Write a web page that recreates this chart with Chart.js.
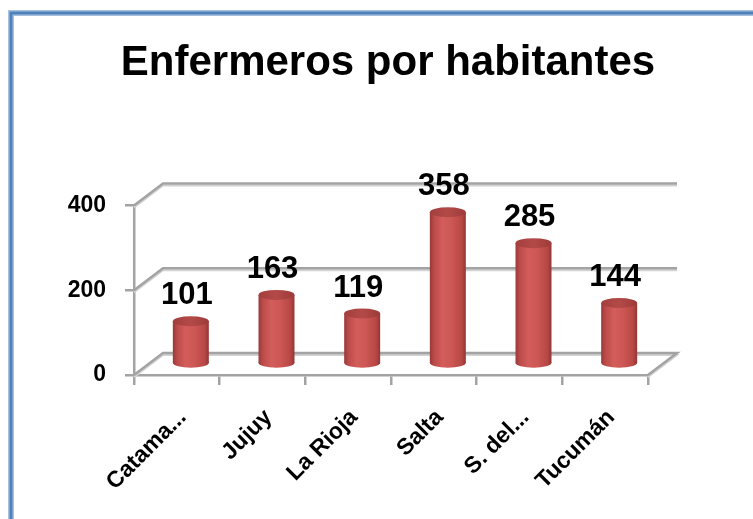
<!DOCTYPE html>
<html><head><meta charset="utf-8">
<script src="https://cdn.jsdelivr.net/npm/chart.js@4.4.0/dist/chart.umd.min.js"></script>
<style>html,body{margin:0;padding:0;background:#fff;overflow:hidden}#wrap{position:relative;width:753px;height:519px}</style>
</head><body><div id="wrap"><canvas id="c" width="753" height="519"></canvas></div>
<script>
const categories = ['Catama...', 'Jujuy', 'La Rioja', 'Salta', 'S. del...', 'Tucumán'];
const values = [101, 163, 119, 358, 285, 144];
const yTicks = [0, 200, 400];
const titleText = 'Enfermeros por habitantes';

const FONT = "'Liberation Sans', Arial, sans-serif";
const DX = 29, DY = -22;          // depth of the 3D box (front -> back)
const MX = 14, MY = -11;          // bars sit in the middle of the depth
const GRID = '#a3a3a3';

function barGradient(ctx, x0, x1) {
  if (!isFinite(x0) || !isFinite(x1) || x1 <= x0) return '#c0504d';
  const g = ctx.createLinearGradient(x0, 0, x1, 0);
  g.addColorStop(0, '#98393a');
  g.addColorStop(0.12, '#bb4b49');
  g.addColorStop(0.35, '#d35d5b');
  g.addColorStop(0.6, '#cd5755');
  g.addColorStop(0.88, '#b84845');
  g.addColorStop(1, '#923634');
  return g;
}

const frame = {
  id: 'frame',
  beforeDraw(chart) {
    const ctx = chart.ctx;
    ctx.save();
    ctx.strokeStyle = '#a9c0dd'; ctx.lineWidth = 6;
    ctx.beginPath(); ctx.moveTo(11, 600); ctx.lineTo(11, 13); ctx.lineTo(800, 13); ctx.stroke();
    ctx.strokeStyle = '#4f81bd'; ctx.lineWidth = 3;
    ctx.beginPath(); ctx.moveTo(11, 600); ctx.lineTo(11, 13); ctx.lineTo(800, 13); ctx.stroke();
    ctx.restore();
  }
};

const box3d = {
  id: 'box3d',
  beforeDatasetsDraw(chart) {
    const {ctx, chartArea: a, scales: {y}} = chart;
    ctx.save();
    ctx.lineCap = 'butt'; ctx.lineJoin = 'miter';
    const pass = (color, w, off) => {
      ctx.strokeStyle = color; ctx.lineWidth = w;
      yTicks.forEach(v => {
        const py = y.getPixelForValue(v) + off;
        ctx.beginPath();
        ctx.moveTo(a.left, py);
        ctx.lineTo(a.left + DX, py + DY);
        ctx.lineTo(a.right + DX, py + DY);
        if (v === yTicks[0]) ctx.lineTo(a.right, py);
        ctx.stroke();
      });
    };
    pass('#d2d2d2', 2, 2);
    pass(GRID, 2.5, 0);
    ctx.restore();
    ctx.save();
    ctx.translate(MX, MY);
  },
  afterDatasetsDraw(chart) {
    const ctx = chart.ctx;
    ctx.restore();
    const meta = chart.getDatasetMeta(0);
    ctx.save();
    meta.data.forEach((bar, i) => {
      const cx = bar.x + MX, w = bar.width, top = bar.y + MY, base = bar.base + MY;
      const rx = w / 2, ry = 5;
      ctx.fillStyle = barGradient(ctx, cx - rx, cx + rx);
      ctx.beginPath(); ctx.ellipse(cx, base, rx, ry, 0, 0, Math.PI * 2); ctx.fill();
      const tg = ctx.createLinearGradient(cx - rx, 0, cx + rx, 0);
      tg.addColorStop(0, '#a23f3d'); tg.addColorStop(0.5, '#b34a48'); tg.addColorStop(1, '#9c3b39');
      ctx.fillStyle = tg;
      ctx.beginPath(); ctx.ellipse(cx, top, rx, ry, 0, 0, Math.PI * 2); ctx.fill();
      ctx.fillStyle = '#000';
      ctx.font = 'bold 31px ' + FONT;
      ctx.textAlign = 'center'; ctx.textBaseline = 'alphabetic';
      ctx.fillText(String(values[i]), cx - 4, top - 17);
    });
    ctx.restore();
  }
};

new Chart(document.getElementById('c'), {
  type: 'bar',
  data: {
    labels: categories,
    datasets: [{
      data: values,
      yAxisID: 'y',
      clip: false,
      borderWidth: 0,
      categoryPercentage: 1,
      barPercentage: 0.42,
      backgroundColor: (c) => {
        const chart = c.chart;
        const xs = chart.scales && chart.scales.x;
        if (!xs || c.type !== 'data') return '#c0504d';
        const cx = xs.getPixelForValue(c.dataIndex);
        const w = xs.width / categories.length * 0.42;
        return barGradient(chart.ctx, cx - w / 2, cx + w / 2);
      }
    }]
  },
  options: {
    responsive: false,
    animation: false,
    devicePixelRatio: 1,
    layout: { padding: { left: 23, right: 0, top: 0, bottom: 0 } },
    plugins: {
      legend: { display: false },
      tooltip: { enabled: false },
      title: {
        display: true,
        text: titleText,
        color: '#000',
        font: { family: FONT, size: 42, weight: 'bold' },
        padding: { top: 38, bottom: 117 }
      }
    },
    scales: {
      x: {
        type: 'category',
        grid: { display: true, drawOnChartArea: false, drawTicks: true, tickLength: 10, color: GRID, lineWidth: 2.5, offset: true },
        border: { display: true, color: GRID, width: 2.5 },
        ticks: {
          autoSkip: false, minRotation: 45, maxRotation: 45,
          color: '#000', padding: 19, labelOffset: 6,
          font: { family: FONT, size: 23, weight: 'bold' }
        },
        afterFit: (s) => { s.height = 144; }
      },
      y: {
        position: 'left',
        min: 0, max: 400,
        afterBuildTicks: (s) => { s.ticks = yTicks.map(v => ({ value: v })); },
        grid: { display: true, drawOnChartArea: false, drawTicks: true, tickLength: 9, color: GRID, lineWidth: 2.5 },
        border: { display: true, color: GRID, width: 2.5 },
        ticks: { color: '#000', padding: 19, font: { family: FONT, size: 23, weight: 'bold' } },
        afterFit: (s) => { s.width = 111; }
      },
      y2: {
        position: 'right',
        display: true,
        grid: { display: false, drawOnChartArea: false },
        border: { display: false },
        ticks: { display: false },
        afterFit: (s) => { s.width = 105; }
      }
    }
  },
  plugins: [frame, box3d]
});
</script>
</body></html>
